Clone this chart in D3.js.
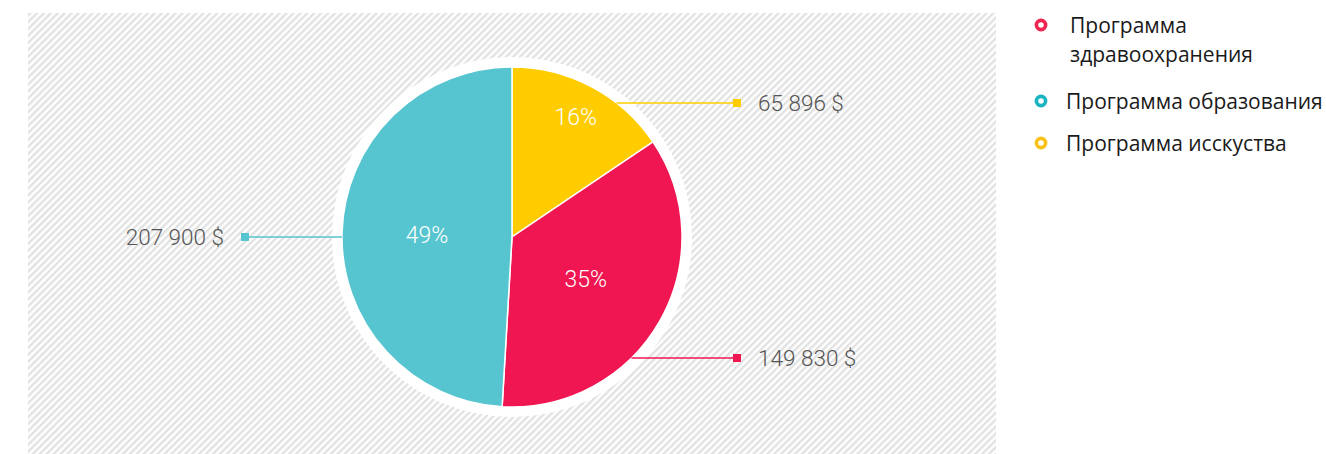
<!DOCTYPE html>
<html lang="ru">
<head>
<meta charset="utf-8">
<script src="https://cdn.jsdelivr.net/npm/d3@7"></script>
<style>
  html, body { margin: 0; padding: 0; background: #fff; }
  svg { display: block; }
</style>
</head>
<body>
<svg id="chart" width="1326" height="454"></svg>
<script>
// Budget split between the three programmes (legend order)
const categories = ["Программа здравоохранения", "Программа образования", "Программа исскуства"];
const legendLines = [["Программа", "здравоохранения"], ["Программа образования"], ["Программа исскуства"]];
const amounts = [149830, 207900, 65896];
const amountLabels = ["149 830 $", "207 900 $", "65 896 $"];
const percentLabels = ["35%", "49%", "16%"];
// Slices are laid out clockwise from 12 o'clock in this order
const sliceOrder = [2, 0, 1];

const sliceColors = ["#ef1651", "#57c5cf", "#ffcc00"];
const legendColors = ["#f0244f", "#19b3c1", "#f6c21a"];

const svg = d3.select("#chart");
const W = 1326, H = 454;

// Hatched panel behind the pie
const defs = svg.append("defs");
const step = 4.9;
const pat = defs.append("pattern")
  .attr("id", "hatch")
  .attr("patternUnits", "userSpaceOnUse")
  .attr("width", step).attr("height", step)
  .attr("patternTransform", "rotate(45)");
pat.append("rect").attr("width", step).attr("height", step).attr("fill", "#ffffff");
pat.append("rect").attr("width", 2.4).attr("height", step).attr("fill", "#e2e2e2");

svg.append("rect")
  .attr("x", 28).attr("y", 13)
  .attr("width", 968).attr("height", H - 13)
  .attr("fill", "url(#hatch)");

const cx = 512, cy = 237, R = 170;
const g = svg.append("g").attr("transform", `translate(${cx},${cy})`);

// White halo around the pie
g.append("circle").attr("r", R + 10).attr("fill", "#fff");

const pie = d3.pie()
  .sort(null)
  .value(i => amounts[i]);
const arcs = pie(sliceOrder);

const arc = d3.arc().innerRadius(0).outerRadius(R);

g.selectAll("path.slice")
  .data(arcs)
  .enter().append("path")
  .attr("class", "slice")
  .attr("d", arc)
  .attr("fill", d => sliceColors[d.data])
  .attr("stroke", "#fff")
  .attr("stroke-width", 1.5);

// Percentage labels inside the slices; narrow slices get theirs pushed outward
g.selectAll("text.pct")
  .data(arcs)
  .enter().append("text")
  .attr("class", "pct")
  .attr("transform", d => {
    const span = d.endAngle - d.startAngle;
    const r = span < 1.2 ? R * 0.8 : R * 0.5;
    const a = (d.startAngle + d.endAngle) / 2;
    return `translate(${r * Math.sin(a)},${-r * Math.cos(a)})`;
  })
  .attr("text-anchor", "middle")
  .attr("dy", "0.36em")
  .attr("font-family", "Roboto, 'Open Sans', sans-serif")
  .attr("font-size", 23)
  .attr("font-weight", 300)
  .attr("fill", "#fff")
  .text(d => percentLabels[d.data]);

// Leader lines with value labels; each row sits at a fixed height,
// line starts where that height meets the slice edge
const rowOffset = { 2: -134, 0: 121, 1: 0 };   // keyed by category index
const markerX = { right: cx + 225, left: cx - 267 };

const leaders = svg.append("g");
arcs.forEach(d => {
  const i = d.data;
  const a = (d.startAngle + d.endAngle) / 2;
  const side = Math.sin(a) >= 0 ? "right" : "left";
  const dy = rowOffset[i];
  const y = cy + dy;
  const x0 = cx + (side === "right" ? 1 : -1) * Math.sqrt(R * R - dy * dy);
  const mx = markerX[side];
  leaders.append("line")
    .attr("x1", x0).attr("y1", y)
    .attr("x2", mx).attr("y2", y)
    .attr("stroke", sliceColors[i])
    .attr("stroke-width", 1.5);
  leaders.append("rect")
    .attr("x", mx - 4).attr("y", y - 4)
    .attr("width", 8).attr("height", 8)
    .attr("fill", sliceColors[i]);
  leaders.append("text")
    .attr("x", side === "right" ? mx + 21 : mx - 21)
    .attr("y", y)
    .attr("dy", "0.36em")
    .attr("text-anchor", side === "right" ? "start" : "end")
    .attr("font-family", "Roboto, 'Open Sans', sans-serif")
    .attr("font-size", 22.5)
    .attr("font-weight", 300)
    .attr("fill", "#555")
    .text(amountLabels[i]);
});

// Legend
const legendRows = [25, 101, 143];
const legend = svg.append("g");
categories.forEach((c, i) => {
  const y = legendRows[i];
  const tx = i === 0 ? 1070 : 1066;
  legend.append("circle")
    .attr("cx", 1041).attr("cy", y)
    .attr("r", 4.6)
    .attr("fill", "#fff")
    .attr("stroke", legendColors[i])
    .attr("stroke-width", 3.6);
  const t = legend.append("text")
    .attr("x", tx)
    .attr("y", y + 1)
    .attr("font-family", "'Open Sans', sans-serif")
    .attr("font-size", 21)
    .attr("fill", "#1a1a1a");
  legendLines[i].forEach((line, k) => {
    t.append("tspan")
      .attr("x", tx)
      .attr("dy", k === 0 ? "0.35em" : 29)
      .text(line);
  });
});
</script>
</body>
</html>
